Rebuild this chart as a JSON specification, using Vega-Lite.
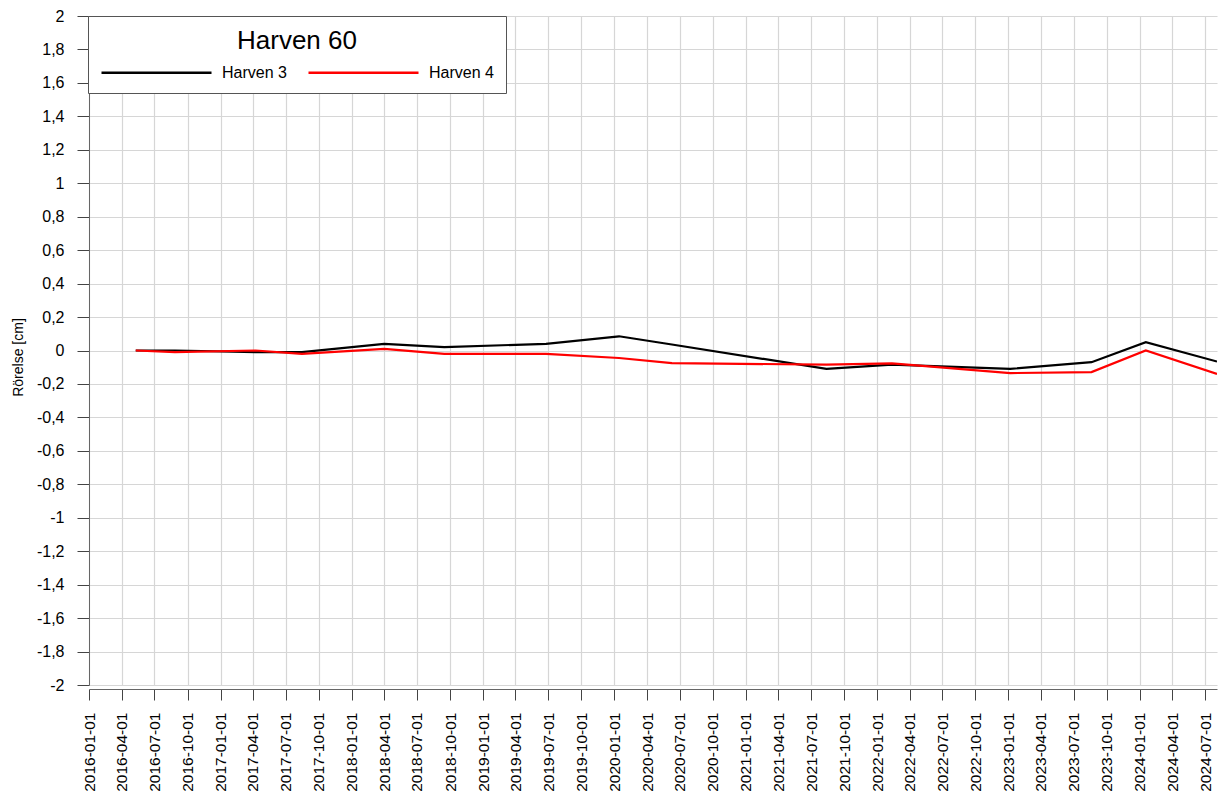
{
  "$schema": "https://vega.github.io/schema/vega-lite/v6.json",
  "autosize": "none",
  "width": 1128,
  "height": 669,
  "padding": {"left": 89, "top": 16, "right": 6, "bottom": 113},
  "background": "white",
  "config": {
    "view": {"stroke": null},
    "font": "Liberation Sans",
    "axis": {"labelFont": "Liberation Sans", "titleFont": "Liberation Sans", "labelColor": "black", "titleColor": "black", "gridColor": "#d6d6d6", "gridWidth": 1.2, "domainColor": "#666666", "tickColor": "#444444"}
  },
  "data": {
    "values": [
      {"date": "2016-05-10", "series": "Harven 3", "value": 0},
      {"date": "2016-08-27", "series": "Harven 3", "value": 0.0},
      {"date": "2017-04-08", "series": "Harven 3", "value": -0.01},
      {"date": "2017-08-15", "series": "Harven 3", "value": -0.01},
      {"date": "2018-04-01", "series": "Harven 3", "value": 0.04},
      {"date": "2018-09-15", "series": "Harven 3", "value": 0.02},
      {"date": "2019-06-25", "series": "Harven 3", "value": 0.04},
      {"date": "2020-01-14", "series": "Harven 3", "value": 0.085},
      {"date": "2020-06-09", "series": "Harven 3", "value": 0.036},
      {"date": "2021-08-13", "series": "Harven 3", "value": -0.11},
      {"date": "2022-02-11", "series": "Harven 3", "value": -0.085},
      {"date": "2023-01-06", "series": "Harven 3", "value": -0.11},
      {"date": "2023-08-20", "series": "Harven 3", "value": -0.07},
      {"date": "2024-01-18", "series": "Harven 3", "value": 0.05},
      {"date": "2024-08-03", "series": "Harven 3", "value": -0.066},
      {"date": "2016-05-10", "series": "Harven 4", "value": 0},
      {"date": "2016-08-27", "series": "Harven 4", "value": -0.01},
      {"date": "2017-04-08", "series": "Harven 4", "value": 0.0},
      {"date": "2017-08-15", "series": "Harven 4", "value": -0.02},
      {"date": "2018-04-01", "series": "Harven 4", "value": 0.01},
      {"date": "2018-09-15", "series": "Harven 4", "value": -0.02},
      {"date": "2019-06-25", "series": "Harven 4", "value": -0.02},
      {"date": "2020-01-14", "series": "Harven 4", "value": -0.045},
      {"date": "2020-06-09", "series": "Harven 4", "value": -0.075},
      {"date": "2021-08-13", "series": "Harven 4", "value": -0.085},
      {"date": "2022-02-11", "series": "Harven 4", "value": -0.077},
      {"date": "2023-01-06", "series": "Harven 4", "value": -0.135},
      {"date": "2023-08-20", "series": "Harven 4", "value": -0.129},
      {"date": "2024-01-18", "series": "Harven 4", "value": 0.0},
      {"date": "2024-08-03", "series": "Harven 4", "value": -0.14}
    ]
  },
  "mark": {"type": "line", "strokeWidth": 2.2, "clip": true},
  "encoding": {
    "x": {
      "field": "date",
      "type": "temporal",
      "scale": {
        "type": "utc",
        "domain": [
          {"year": 2016, "month": 1, "date": 1, "utc": true},
          {"year": 2024, "month": 8, "date": 3, "utc": true}
        ]
      },
      "axis": {
        "title": null,
        "labelExpr": "utcFormat(datum.value, '%Y-%m-%d')",
        "tickCount": {"interval": "month", "step": 3},
        "labelAngle": 270,
        "labelAlign": "right",
        "labelBaseline": "middle",
        "labelFontSize": 15.5,
        "labelPadding": 12,
        "tickSize": 11,
        "offset": 4,
        "labelOverlap": false,
        "labelFlush": false,
        "grid": true
      }
    },
    "y": {
      "field": "value",
      "type": "quantitative",
      "scale": {"domain": [-2, 2], "nice": false, "zero": false},
      "axis": {
        "title": "Rörelse [cm]",
        "titleFontSize": 14,
        "titleFontWeight": "normal",
        "titleAngle": 270,
        "titleAlign": "center",
        "titleBaseline": "middle",
        "titleX": -71,
        "titleY": 341,
        "values": [-2, -1.8, -1.6, -1.4, -1.2, -1, -0.8, -0.6, -0.4, -0.2, 0, 0.2, 0.4, 0.6, 0.8, 1, 1.2, 1.4, 1.6, 1.8, 2],
        "labelExpr": "replace(replace(format(datum.value, '.1~f'), '.', ','), '\u2212', '-')",
        "labelFontSize": 16,
        "labelPadding": 13,
        "tickSize": 12,
        "labelOverlap": false,
        "labelFlush": false,
        "grid": true
      }
    },
    "color": {
      "field": "series",
      "type": "nominal",
      "scale": {"domain": ["Harven 3", "Harven 4"], "range": ["#000000", "#ff0000"]},
      "legend": {
        "title": "Harven 60",
        "orient": "none",
        "legendX": -1,
        "legendY": 0,
        "direction": "horizontal",
        "titleFontSize": 26,
        "titleFontWeight": "normal",
        "titleColor": "black",
        "titleAnchor": "middle",
        "titlePadding": 6,
        "symbolType": "M-1,0H9",
        "symbolSize": 484,
        "symbolStrokeWidth": 2.5,
        "labelFontSize": 16,
        "labelColor": "black",
        "labelOffset": 97,
        "columnPadding": 16,
        "padding": 12,
        "strokeColor": "#555555",
        "fillColor": "white"
      }
    }
  }
}
